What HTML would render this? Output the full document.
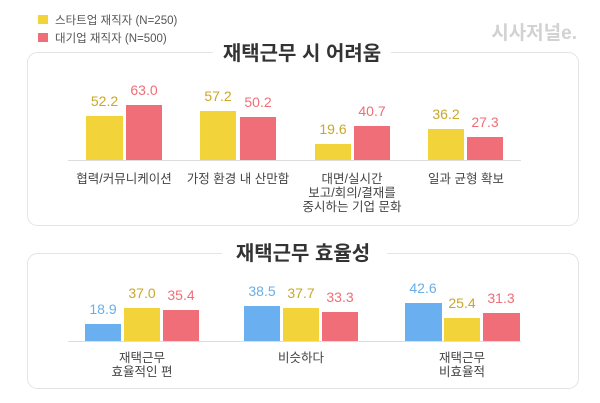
<!DOCTYPE html>
<html><head><meta charset="utf-8"><style>
html,body{margin:0;padding:0;background:#fff;}
svg{display:block;}
text{font-family:"Liberation Sans","Noto Sans CJK KR",sans-serif;}
</style></head><body>
<svg width="600" height="403" viewBox="0 0 600 403" xmlns="http://www.w3.org/2000/svg">
<rect width="600" height="403" fill="#fff"/>
<!-- legend -->
<rect x="38" y="15" width="10" height="9" fill="#f2d43a"/>
<text x="55" y="24" font-size="11.5" fill="#555">스타트업 재직자 (N=250)</text>
<rect x="38" y="33" width="10" height="9" fill="#f06e78"/>
<text x="55" y="42" font-size="11.5" fill="#555">대기업 재직자 (N=500)</text>
<text x="577" y="39" font-size="19" font-weight="bold" fill="#d2d2d2" text-anchor="end">시사저널e.</text>

<!-- box 1 -->
<rect x="27.5" y="52.5" width="551" height="173" rx="10" fill="none" stroke="#e4e4e4"/>
<rect x="213" y="45" width="178" height="16" fill="#fff"/>
<text x="302" y="60" font-size="20" font-weight="bold" fill="#333" text-anchor="middle">재택근무 시 어려움</text>
<line x1="68" y1="160.5" x2="521" y2="160.5" stroke="#ddd"/>
<g font-size="14" text-anchor="middle">
<rect x="86" y="116" width="37" height="44" fill="#f2d43a"/><text x="104.5" y="106" fill="#c9a72a">52.2</text>
<rect x="126" y="105" width="36" height="55" fill="#f06e78"/><text x="144" y="95" fill="#f06e78">63.0</text>
<rect x="200" y="111" width="36" height="49" fill="#f2d43a"/><text x="218" y="101" fill="#c9a72a">57.2</text>
<rect x="240" y="117" width="36" height="43" fill="#f06e78"/><text x="258" y="107" fill="#f06e78">50.2</text>
<rect x="315" y="144" width="36" height="16" fill="#f2d43a"/><text x="333" y="134" fill="#c9a72a">19.6</text>
<rect x="354" y="126" width="36" height="34" fill="#f06e78"/><text x="372" y="116" fill="#f06e78">40.7</text>
<rect x="428" y="129" width="36" height="31" fill="#f2d43a"/><text x="446" y="119" fill="#c9a72a">36.2</text>
<rect x="467" y="137" width="36" height="23" fill="#f06e78"/><text x="485" y="127" fill="#f06e78">27.3</text>
</g>
<g font-size="12.5" fill="#444" text-anchor="middle">
<text x="124" y="183">협력/커뮤니케이션</text>
<text x="238" y="183">가정 환경 내 산만함</text>
<text x="352" y="183">대면/실시간</text>
<text x="352" y="197">보고/회의/결재를</text>
<text x="352" y="211">중시하는 기업 문화</text>
<text x="466" y="183">일과 균형 확보</text>
</g>

<!-- box 2 -->
<rect x="27.5" y="253.5" width="551" height="135" rx="10" fill="none" stroke="#e4e4e4"/>
<rect x="222" y="245" width="165" height="16" fill="#fff"/>
<text x="303" y="260" font-size="20" font-weight="bold" fill="#333" text-anchor="middle">재택근무 효율성</text>
<line x1="68" y1="341.5" x2="521" y2="341.5" stroke="#ddd"/>
<g font-size="14" text-anchor="middle">
<rect x="85" y="324" width="36" height="17" fill="#6ab0f0"/><text x="103" y="314" fill="#6aaee8">18.9</text>
<rect x="124" y="308" width="36" height="33" fill="#f2d43a"/><text x="142" y="298" fill="#c9a72a">37.0</text>
<rect x="163" y="310" width="36" height="31" fill="#f06e78"/><text x="181" y="300" fill="#f06e78">35.4</text>
<rect x="244" y="306" width="36" height="35" fill="#6ab0f0"/><text x="262" y="296" fill="#6aaee8">38.5</text>
<rect x="283" y="308" width="36" height="33" fill="#f2d43a"/><text x="301" y="298" fill="#c9a72a">37.7</text>
<rect x="322" y="312" width="36" height="29" fill="#f06e78"/><text x="340" y="302" fill="#f06e78">33.3</text>
<rect x="405" y="303" width="37" height="38" fill="#6ab0f0"/><text x="423" y="293" fill="#6aaee8">42.6</text>
<rect x="444" y="318" width="36" height="23" fill="#f2d43a"/><text x="462" y="308" fill="#c9a72a">25.4</text>
<rect x="483" y="313" width="37" height="28" fill="#f06e78"/><text x="501" y="303" fill="#f06e78">31.3</text>
</g>
<g font-size="12.5" fill="#444" text-anchor="middle">
<text x="142" y="362">재택근무</text>
<text x="142" y="376">효율적인 편</text>
<text x="301" y="362">비슷하다</text>
<text x="462" y="362">재택근무</text>
<text x="462" y="376">비효율적</text>
</g>
</svg>
</body></html>
